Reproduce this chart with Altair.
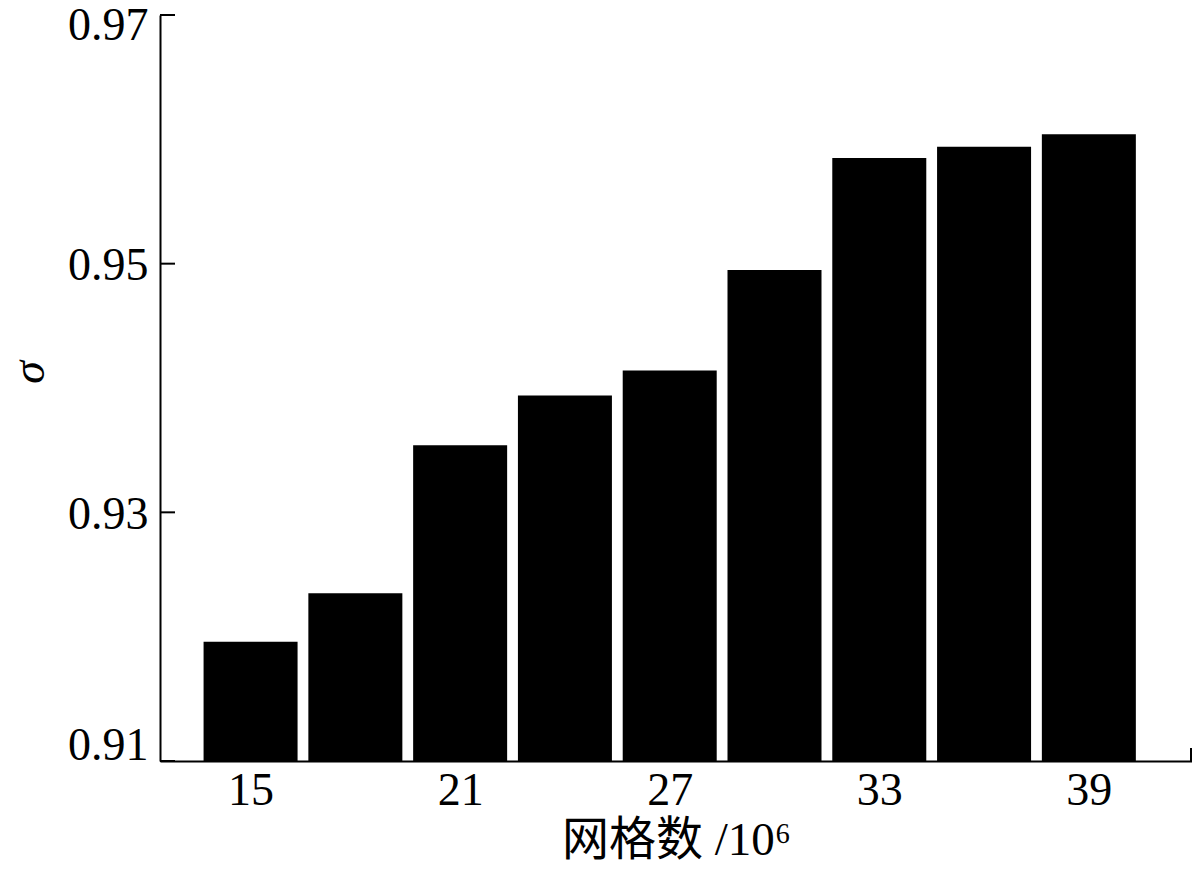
import altair as alt
import pandas as pd

# data
grid_counts = [15, 18, 21, 24, 27, 30, 33, 36, 39]
sigma = [0.9196, 0.9235, 0.9354, 0.9394, 0.9414, 0.9495, 0.9585, 0.9594, 0.9604]
y_ticks = [0.91, 0.93, 0.95, 0.97]
x_ticks = [15, 21, 27, 33, 39]

df = pd.DataFrame({"n": grid_counts, "s": sigma})
ytick_df = pd.DataFrame({"t": y_ticks})

W, H = 1032, 746
FONT = "Liberation Serif"

xscale = alt.Scale(domain=[12.55, 41.81], nice=False, zero=False)
yscale = alt.Scale(domain=[0.91, 0.97], nice=False, zero=False)

yaxis = alt.Axis(values=y_ticks, format=".2f", ticks=False, grid=False,
                 labelPadding=12, domainColor="black", domainWidth=2,
                 labelFont=FONT, labelFontSize=46, labelColor="black",
                 labelOffset={"expr": "datum.value < 0.915 ? -16 : (datum.value > 0.965 ? 10 : 2)"},
                 title="σ", titleFont=FONT, titleFontStyle="italic",
                 titleFontSize=46, titleFontWeight="normal", titleColor="black",
                 titleAngle=270, titleX=-131, titleY=357,
                 titleAlign="center", titleBaseline="middle")

bars = alt.Chart(df).mark_bar(color="black", size=94).encode(
    x=alt.X("n:Q", scale=xscale,
            axis=alt.Axis(values=x_ticks, ticks=False, grid=False, labelPadding=7,
                          domainColor="black", domainWidth=2,
                          labelFont=FONT, labelFontSize=46, labelColor="black",
                          title="网格数 /10⁶", titleFont="Liberation Serif, Noto Sans CJK SC",
                          titleFontSize=47, titleFontWeight="normal", titleColor="black",
                          titlePadding=4)),
    y=alt.Y("s:Q", scale=yscale, axis=yaxis),
    y2=alt.datum(0.91),
)

yticks = alt.Chart(ytick_df).mark_rule(color="black", strokeWidth=2).encode(
    y=alt.Y("t:Q", scale=yscale, axis=yaxis),
    x=alt.value(0),
    x2=alt.value(15),
)

end_tick = alt.Chart(ytick_df.head(1)).mark_rule(color="black", strokeWidth=2).encode(
    x=alt.value(W - 1),
    y=alt.value(H - 13),
    y2=alt.value(H),
)

chart = alt.layer(bars, yticks, end_tick).properties(
    width=W, height=H,
    background="white",
    autosize=alt.AutoSizeParams(type="none"),
    padding={"left": 152, "top": 7, "right": 0, "bottom": 104},
).configure_view(stroke="transparent", strokeWidth=0).configure_axis(grid=False)

chart.save("out.html", embed_options={"renderer": "svg", "actions": False})
